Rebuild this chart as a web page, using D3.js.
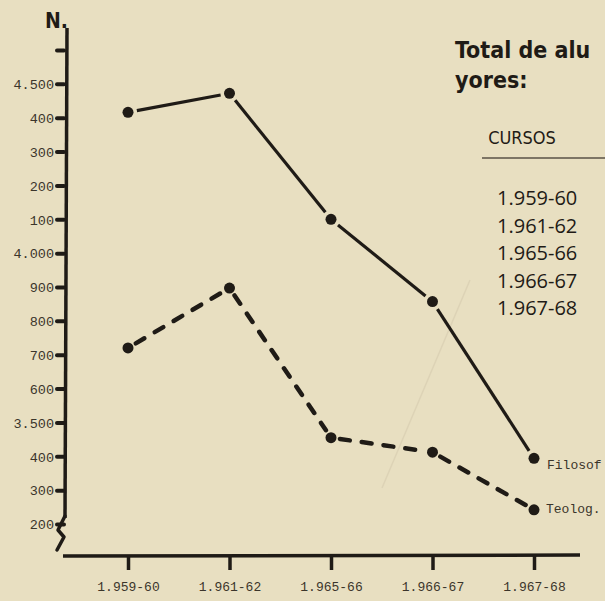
<!DOCTYPE html>
<html><head><meta charset="utf-8">
<script src="https://cdn.jsdelivr.net/npm/d3@7"></script>
<style>
html,body{margin:0;padding:0;background:#e8dfc1;overflow:hidden}
svg{display:block}
</style></head>
<body>
<svg id="c" width="605" height="601"></svg>
<script>
// ---- data ----
const cursos = ["1.959-60","1.961-62","1.965-66","1.966-67","1.967-68"];
const filosofia = [4416, 4472, 4100, 3857, 3394];
const teologia  = [3720, 3897, 3455, 3412, 3242];
const tickValues = [3200,3300,3400,3500,3600,3700,3800,3900,4000,4100,4200,4300,4400,4500,4600];
const tickLabels = ["200","300","400","3.500","600","700","800","900","4.000","100","200","300","400","4.500",""];
const tablaCursos = ["1.959-60","1.961-62","1.965-66","1.966-67","1.967-68"];
const seriesLabels = ["Filosof","Teolog."];

const ink = "#1f1b16";
const typeInk = "#3b352b";
const svg = d3.select("#c");
const y = d3.scaleLinear().domain([3200,4600]).range([524,50]);
const x = d3.scalePoint().domain(cursos).range([128,534]);

// faint show-through diagonal
svg.append("line").attr("x1",382).attr("y1",488).attr("x2",470).attr("y2",280)
  .attr("stroke","#ddd3b6").attr("stroke-width",1.5);

// y axis
const axX = 66;
svg.append("line").attr("x1",axX+1).attr("y1",28).attr("x2",axX-1).attr("y2",518)
  .attr("stroke",ink).attr("stroke-width",3.5);
svg.append("path").attr("d",`M${axX-1},516 L58,530 L64,537 L57,550`)
  .attr("fill","none").attr("stroke",ink).attr("stroke-width",3.5).attr("stroke-linecap","round").attr("stroke-linejoin","round");

const yAxis = d3.axisLeft(y).tickValues(tickValues).tickSize(0).tickPadding(12)
  .tickFormat((d,i)=>tickLabels[i]);
const gy = svg.append("g").attr("transform",`translate(${axX},0)`).call(yAxis);
gy.select(".domain").remove();
gy.selectAll(".tick").append("line").attr("x1",-9).attr("x2",-2).attr("y1",0).attr("y2",0)
  .attr("stroke",ink).attr("stroke-width",4).attr("stroke-linecap","round");
gy.selectAll("text").attr("font-family","Liberation Mono").attr("font-size",13.5)
  .attr("fill",typeInk).attr("dy","0.35em");

// x axis
const axY = 556;
svg.append("line").attr("x1",63).attr("y1",axY).attr("x2",580).attr("y2",axY-1)
  .attr("stroke",ink).attr("stroke-width",3.5);
const xAxis = d3.axisBottom(x).tickSize(0).tickPadding(26);
const gx = svg.append("g").attr("transform",`translate(0,${axY})`).call(xAxis);
gx.select(".domain").remove();
gx.selectAll(".tick").append("line").attr("y1",0).attr("y2",14)
  .attr("stroke",ink).attr("stroke-width",3.5);
gx.selectAll("text").attr("font-family","Liberation Mono").attr("font-size",13)
  .attr("fill",typeInk);

// N.
svg.append("text").attr("x",45).attr("y",28).text("N.")
  .attr("font-family","DejaVu Sans Condensed").attr("font-weight","bold").attr("font-size",21).attr("fill",ink);

// series
function segs(vals, gap){
  const pts = vals.map((v,i)=>[x(cursos[i]), y(v)]);
  const out = [];
  for(let i=0;i<pts.length-1;i++){
    const [x1,y1]=pts[i],[x2,y2]=pts[i+1];
    const L=Math.hypot(x2-x1,y2-y1), ux=(x2-x1)/L, uy=(y2-y1)/L;
    out.push([x1+ux*gap,y1+uy*gap,x2-ux*gap,y2-uy*gap]);
  }
  return {pts,out};
}
const f = segs(filosofia, 9);
svg.append("g").selectAll("line").data(f.out).join("line")
  .attr("x1",d=>d[0]).attr("y1",d=>d[1]).attr("x2",d=>d[2]).attr("y2",d=>d[3])
  .attr("stroke",ink).attr("stroke-width",3.2);
const t = segs(teologia, 9);
svg.append("g").selectAll("line").data(t.out).join("line")
  .attr("x1",d=>d[0]).attr("y1",d=>d[1]).attr("x2",d=>d[2]).attr("y2",d=>d[3])
  .attr("stroke",ink).attr("stroke-width",4.5).attr("stroke-dasharray","10,12").attr("stroke-linecap","round");
svg.append("g").selectAll("circle").data(f.pts.concat(t.pts)).join("circle")
  .attr("cx",d=>d[0]).attr("cy",d=>d[1]).attr("r",5.5).attr("fill",ink);

// series labels
svg.append("text").attr("x",547).attr("y",469).text(seriesLabels[0])
  .attr("font-family","Liberation Mono").attr("font-size",13).attr("fill",typeInk);
svg.append("text").attr("x",546).attr("y",513).text(seriesLabels[1])
  .attr("font-family","Liberation Mono").attr("font-size",13).attr("fill",typeInk);

// right-hand table fragment
svg.append("text").attr("x",455).attr("y",58).text("Total de alu")
  .attr("font-family","DejaVu Sans Condensed").attr("font-weight","bold").attr("font-size",23).attr("fill",ink);
svg.append("text").attr("x",455).attr("y",88).text("yores:")
  .attr("font-family","DejaVu Sans Condensed").attr("font-weight","bold").attr("font-size",23).attr("fill",ink);
svg.append("text").attr("x",522).attr("y",144).attr("text-anchor","middle").text("CURSOS")
  .attr("font-family","DejaVu Sans Condensed").attr("font-size",18).attr("fill",ink);
svg.append("line").attr("x1",482).attr("x2",605).attr("y1",158).attr("y2",158)
  .attr("stroke","#5a5246").attr("stroke-width",1.5);
svg.append("g").selectAll("text").data(tablaCursos).join("text")
  .attr("x",497).attr("y",(d,i)=>205+i*27.5).text(d=>d)
  .attr("font-family","Open Sans").attr("font-size",20).attr("fill",ink);
</script>
</body></html>
